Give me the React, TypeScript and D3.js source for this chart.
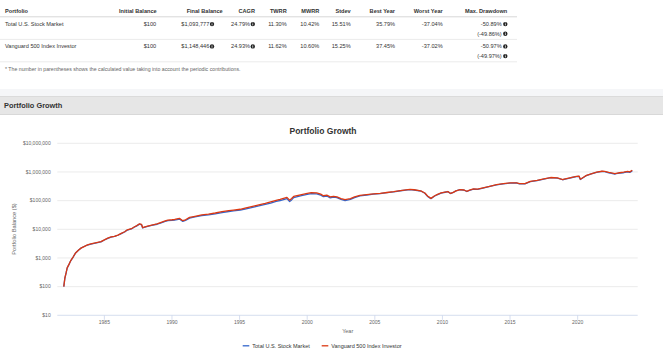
import { useRef, useEffect } from 'react';
import * as d3 from 'd3';

// table
const headers = ['Portfolio', 'Initial Balance', 'Final Balance', 'CAGR', 'TWRR', 'MWRR', 'Stdev', 'Best Year', 'Worst Year', 'Max. Drawdown'];
const portfolios = ['Total U.S. Stock Market', 'Vanguard 500 Index Investor'];
const initialBalance = ['$100', '$100'];
const finalBalance = ['$1,093,777', '$1,148,446'];
const cagr = ['24.79%', '24.93%'];
const twrr = ['11.30%', '11.62%'];
const mwrr = ['10.42%', '10.60%'];
const stdev = ['15.51%', '15.25%'];
const bestYear = ['35.79%', '37.45%'];
const worstYear = ['-37.04%', '-37.02%'];
const maxDrawdown = ['-50.89%', '-50.97%'];
const maxDrawdownContrib = ['(-49.86%)', '(-49.97%)'];

// chart
const years = [
  1982.0, 1982.08, 1982.17, 1982.25, 1982.4, 1982.5, 1982.7, 1982.87, 1983.1, 1983.3, 1983.5, 1983.75,
  1984.0, 1984.25, 1984.5, 1984.75, 1985.0, 1985.25, 1985.5, 1985.75, 1986.0, 1986.25, 1986.5, 1986.7,
  1987.0, 1987.2, 1987.4, 1987.6, 1987.75, 1987.83, 1988.0, 1988.2, 1988.5, 1988.9, 1989.2, 1989.5,
  1989.7, 1990.0, 1990.2, 1990.55, 1990.8, 1991.0, 1991.3, 1991.7, 1992.2, 1992.7, 1993.2, 1993.7,
  1994.2, 1994.55, 1995.05, 1995.4, 1995.8, 1996.2, 1996.5, 1996.9, 1997.3, 1997.7, 1998.0, 1998.5,
  1998.7, 1998.85, 1999.0, 1999.5, 2000.0, 2000.3, 2000.7, 2001.0, 2001.2, 2001.45, 2001.7, 2001.95,
  2002.2, 2002.5, 2002.8, 2003.2, 2003.5, 2003.9, 2004.4, 2004.9, 2005.4, 2005.9, 2006.4, 2006.9,
  2007.3, 2007.6, 2007.9, 2008.4, 2008.7, 2008.9, 2009.15, 2009.4, 2009.6, 2009.9, 2010.2, 2010.4,
  2010.6, 2010.8, 2011.0, 2011.3, 2011.6, 2011.8, 2012.0, 2012.3, 2012.6, 2013.0, 2013.5, 2014.0,
  2014.5, 2015.0, 2015.5, 2015.7, 2016.1, 2016.5, 2017.0, 2017.5, 2018.0, 2018.5, 2018.9, 2019.0,
  2019.5, 2019.9, 2020.1, 2020.2, 2020.4, 2020.65, 2021.0, 2021.4, 2021.8, 2022.0, 2022.3, 2022.5,
  2022.75, 2022.85, 2023.1, 2023.4, 2023.7, 2023.85, 2024.04,
];
const totalMarket = [
  100, 198, 296, 445, 612, 780, 1090, 1490, 1900, 2260, 2510, 2830,
  3060, 3240, 3430, 3640, 4230, 4820, 5330, 5620, 6200, 7100, 8050, 9400,
  10300, 11800, 13200, 15100, 14400, 11100, 11800, 12600, 13600, 15000, 16900, 18800,
  20200, 20600, 21000, 22800, 18900, 20300, 24600, 26900, 30000, 31800, 34500, 38200,
  41800, 43600, 46300, 50800, 56400, 61800, 66500, 73600, 82500, 94000, 101000, 118000,
  93500, 106000, 127000, 146000, 165000, 176000, 173000, 155000, 137000, 145000, 125000, 133000,
  127000, 110000, 100000, 110000, 127000, 146000, 157000, 168000, 175000, 189000, 202000, 221000,
  234000, 243000, 235000, 216000, 181000, 141000, 117000, 142000, 160000, 183000, 196000, 206000,
  176000, 193000, 218000, 240000, 232000, 208000, 229000, 252000, 247000, 275000, 312000, 355000,
  384000, 409000, 412000, 385000, 383000, 463000, 503000, 561000, 630000, 612000, 535000, 550000,
  628000, 688000, 706000, 545000, 626000, 748000, 850000, 968000, 1045000, 1030000, 935000, 900000,
  850000, 868000, 905000, 940000, 1005000, 965000, 1093777,
];
const vanguard500 = [
  100, 200, 300, 450, 620, 790, 1100, 1500, 1900, 2250, 2500, 2850,
  3100, 3300, 3500, 3700, 4300, 4900, 5400, 5700, 6300, 7200, 8200, 9600,
  10500, 12000, 13500, 15500, 14800, 11500, 12200, 13000, 14000, 15500, 17500, 19500,
  21000, 21500, 22000, 24000, 20000, 21500, 26000, 28500, 32000, 34000, 37000, 41000,
  45000, 47000, 50000, 55000, 61000, 67000, 72000, 80000, 90000, 102000, 110000, 130000,
  104000, 118000, 140000, 160000, 178000, 190000, 187000, 168000, 148000, 155000, 135000, 142000,
  135000, 118000, 108000, 118000, 135000, 152000, 162000, 172000, 178000, 192000, 205000, 225000,
  238000, 248000, 240000, 220000, 185000, 145000, 120000, 145000, 162000, 185000, 198000, 208000,
  178000, 195000, 220000, 242000, 235000, 212000, 232000, 255000, 250000, 278000, 315000, 360000,
  390000, 415000, 418000, 392000, 390000, 470000, 510000, 570000, 640000, 620000, 545000, 560000,
  640000, 700000, 720000, 560000, 640000, 760000, 860000, 980000, 1060000, 1050000, 960000, 930000,
  880000, 900000, 940000, 980000, 1050000, 1010000, 1148446,
];
const yTicks = [10, 100, 1000, 10000, 100000, 1000000, 10000000];
const xTicks = [1985, 1990, 1995, 2000, 2005, 2010, 2015, 2020];
const seriesNames = ['Total U.S. Stock Market', 'Vanguard 500 Index Investor'];
const seriesColors = ['#3366cc', '#dc3912'];

const FONT = '"Liberation Sans", Arial, sans-serif';

export default function App() {
  const svgRef = useRef<SVGSVGElement>(null);

  useEffect(() => {
    document.body.style.margin = '0';
    const svg = d3.select(svgRef.current);
    svg.selectAll('*').remove();
    svg.style('font-family', FONT);

    // ---- table ----
    const t = svg.append('g');
    const rightEdges = [0, 156.7, 222.7, 255, 286.7, 319.3, 350.7, 395, 442.7, 507.3];
    headers.forEach(function (h, i) {
      t.append('text')
        .attr('x', i === 0 ? 5 : rightEdges[i])
        .attr('y', 12.6)
        .attr('text-anchor', i === 0 ? 'start' : 'end')
        .attr('font-size', 5.6)
        .attr('font-weight', 'bold')
        .attr('fill', '#333')
        .text(h);
    });
    t.append('line').attr('x1', 0).attr('x2', 517).attr('y1', 16.8).attr('y2', 16.8)
      .attr('stroke', '#d8d8d8').attr('stroke-width', 1);
    [39.4, 61.8].forEach(function (y) {
      t.append('line').attr('x1', 0).attr('x2', 517).attr('y1', y).attr('y2', y)
        .attr('stroke', '#e6e6e6').attr('stroke-width', 0.8);
    });

    function infoIcon(cx: number, cy: number) {
      t.append('circle').attr('cx', cx).attr('cy', cy).attr('r', 2.2).attr('fill', '#222');
      t.append('rect').attr('x', cx - 0.35).attr('y', cy - 0.6).attr('width', 0.7).attr('height', 1.9).attr('fill', '#fff');
      t.append('circle').attr('cx', cx).attr('cy', cy - 1.25).attr('r', 0.4).attr('fill', '#fff');
    }

    portfolios.forEach(function (p, r) {
      const y = 26 + r * 22.3;
      const txt = function (x: number, s: string, anchor: string, yy?: number) {
        t.append('text').attr('x', x).attr('y', yy === undefined ? y : yy)
          .attr('text-anchor', anchor).attr('font-size', 5.6).attr('fill', '#333').text(s);
      };
      txt(5, p, 'start');
      txt(156.2, initialBalance[r], 'end');
      txt(209.3, finalBalance[r], 'end');
      infoIcon(212, y - 1.9);
      txt(250, cagr[r], 'end');
      infoIcon(252.8, y - 1.9);
      txt(286.7, twrr[r], 'end');
      txt(319.3, mwrr[r], 'end');
      txt(350.7, stdev[r], 'end');
      txt(395, bestYear[r], 'end');
      txt(442.7, worstYear[r], 'end');
      txt(501.7, maxDrawdown[r], 'end');
      infoIcon(505.3, y - 1.9);
      txt(501.7, maxDrawdownContrib[r], 'end', y + 9.7);
      infoIcon(505.3, y + 9.7 - 1.9);
    });
    t.append('text').attr('x', 5).attr('y', 70.5).attr('font-size', 5.2).attr('fill', '#666')
      .text('* The number in parentheses shows the calculated value taking into account the periodic contributions.');

    // ---- section header ----
    svg.append('rect').attr('x', 0).attr('y', 89).attr('width', 663).attr('height', 7.5).attr('fill', '#f5f6f8');
    svg.append('rect').attr('x', 0).attr('y', 96.5).attr('width', 663).attr('height', 18)
      .attr('fill', '#e6e6e6');
    svg.append('line').attr('x1', 0).attr('x2', 663).attr('y1', 96.5).attr('y2', 96.5).attr('stroke', '#d6d6d6').attr('stroke-width', 0.8);
    svg.append('line').attr('x1', 0).attr('x2', 663).attr('y1', 114.5).attr('y2', 114.5).attr('stroke', '#d0d0d0').attr('stroke-width', 0.8);
    svg.append('text').attr('x', 4).attr('y', 108).attr('font-size', 7.4).attr('font-weight', 'bold')
      .attr('fill', '#333').text('Portfolio Growth');

    // ---- chart ----
    const left = 57.3, right = 637.7, top = 143.3, bottom = 315.3;
    const x = d3.scaleLinear().domain([1981.52, 2024.44]).range([left, right]);
    const y = d3.scaleLog().domain([10, 10000000]).range([bottom, top]);
    const g = svg.append('g');

    g.append('text').attr('x', 323).attr('y', 134).attr('text-anchor', 'middle')
      .attr('font-size', 8.5).attr('font-weight', 'bold').attr('fill', '#333').text('Portfolio Growth');

    yTicks.forEach(function (v) {
      if (v !== 10) {
        g.append('line').attr('x1', left).attr('x2', right).attr('y1', y(v)).attr('y2', y(v))
          .attr('stroke', '#e6e6e6').attr('stroke-width', 0.8);
      }
      g.append('text').attr('x', 50.7).attr('y', y(v) + 1.8).attr('text-anchor', 'end')
        .attr('font-size', 5).attr('fill', '#666').text('$' + d3.format(',')(v));
    });
    g.append('line').attr('x1', left).attr('x2', right).attr('y1', bottom).attr('y2', bottom)
      .attr('stroke', '#ccd6eb').attr('stroke-width', 0.8);
    xTicks.forEach(function (v) {
      g.append('line').attr('x1', x(v)).attr('x2', x(v)).attr('y1', bottom).attr('y2', bottom + 4.5)
        .attr('stroke', '#ccd6eb').attr('stroke-width', 0.8);
      g.append('text').attr('x', x(v)).attr('y', 324.3).attr('text-anchor', 'middle')
        .attr('font-size', 5).attr('fill', '#666').text(String(v));
    });
    g.append('text').attr('x', 347.7).attr('y', 333).attr('text-anchor', 'middle')
      .attr('font-size', 5.5).attr('fill', '#666').text('Year');
    g.append('text').attr('transform', 'translate(16,229) rotate(-90)').attr('text-anchor', 'middle')
      .attr('font-size', 5.7).attr('fill', '#666').text('Portfolio Balance ($)');

    const line = d3.line<number>()
      .x(function (_d, i) { return x(years[i]); })
      .y(function (d) { return y(d); });
    [totalMarket, vanguard500].forEach(function (s, i) {
      g.append('path').attr('d', line(s) || '').attr('fill', 'none')
        .attr('stroke', seriesColors[i]).attr('stroke-width', 1.3).attr('stroke-linejoin', 'round');
    });

    // legend
    const legendX = [242.7, 321.7];
    seriesNames.forEach(function (n, i) {
      g.append('line').attr('x1', legendX[i]).attr('x2', legendX[i] + 6.6).attr('y1', 345.8).attr('y2', 345.8)
        .attr('stroke', seriesColors[i]).attr('stroke-width', 1.3);
      g.append('text').attr('x', legendX[i] + 9.6).attr('y', 347.8).attr('font-size', 5.5)
        .attr('fill', '#333').text(n);
    });
  }, []);

  return (
    <svg ref={svgRef} width={663} height={351}
      style={{ position: 'fixed', left: 0, top: 0, display: 'block', background: '#fff' }} />
  );
}
